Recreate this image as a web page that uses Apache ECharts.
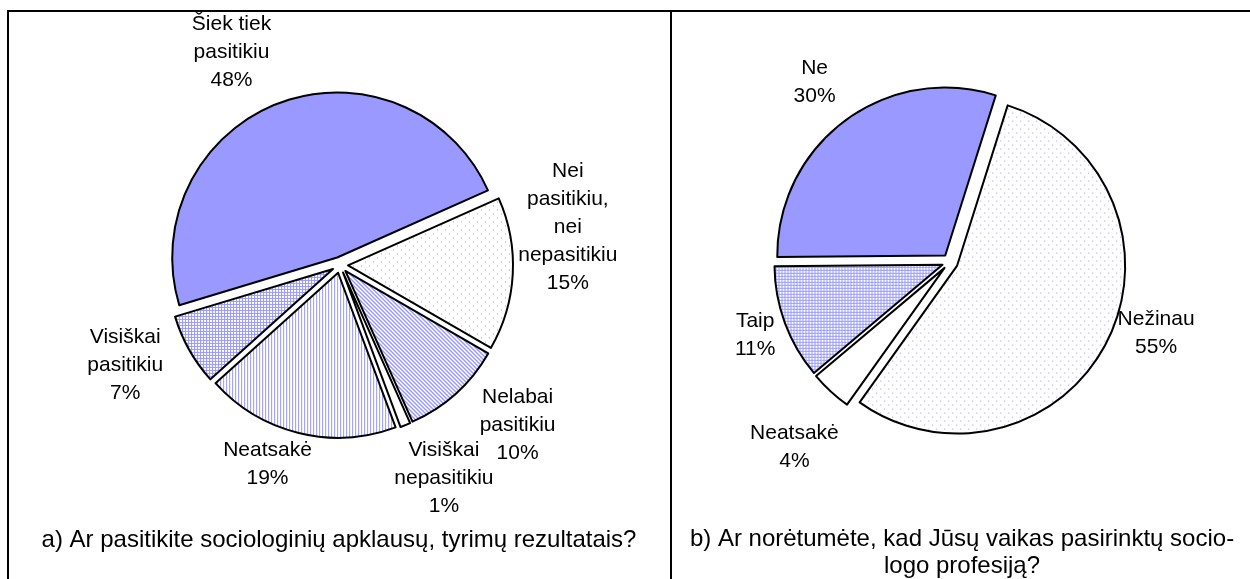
<!DOCTYPE html>
<html>
<head>
<meta charset="utf-8">
<script src="https://cdn.jsdelivr.net/npm/echarts@6/dist/echarts.min.js"></script>
<style>
html, body { margin: 0; padding: 0; background: #fff; }
#chart { width: 1250px; height: 579px; }
</style>
</head>
<body>
<div id="chart"></div>
<script>
// a) Ar pasitikite sociologinių apklausų ... (clockwise from the upper right)
const trustNames = ['Nei\npasitikiu,\nnei\nnepasitikiu', 'Nelabai\npasitikiu', 'Visiškai\nnepasitikiu', 'Neatsakė', 'Visiškai\npasitikiu', 'Šiek tiek\npasitikiu']
const trustValues = [15, 10, 1, 19, 7, 48]
const trustFills = ['dots', 'diag', 'white', 'vert', 'grid', 'solid']

// b) Ar norėtumėte, kad Jūsų vaikas ...
const childNames = ['Nežinau', 'Neatsakė', 'Taip', 'Ne']
const childValues = [55, 4, 11, 30]
const childFills = ['dots', 'white', 'grid', 'solid']

const captionA = 'a) Ar pasitikite sociologinių apklausų, tyrimų rezultatais?'
const captionB = 'b) Ar norėtumėte, kad Jūsų vaikas pasirinktų socio-\nlogo profesiją?'

// layout: where the labels sit around each pie, [angle deg, distance px]
const centers = [[340, 265], [950, 262]]
const labelPolar = [
  [[9.5, 231], [-42, 239], [-64, 237], [-110, 212], [-155, 237], [117, 239]],
  [[-19, 218], [-130, 242], [-159.5, 208], [127, 225]]
]

const BLUE = '#9999ff'
const FONT = '"Liberation Sans", Arial, sans-serif'

// little tiles like the old excel fill patterns
const makePattern = (kind) => {
  if (kind === 'solid') return BLUE
  if (kind === 'white') return '#ffffff'
  const c = document.createElement('canvas')
  const size = { dots: 8, diag: 4, vert: 3, grid: 3 }[kind]
  c.width = size
  c.height = size
  const ctx = c.getContext('2d')
  ctx.fillStyle = '#ffffff'
  ctx.fillRect(0, 0, size, size)
  ctx.fillStyle = BLUE
  if (kind === 'dots') {
    ctx.fillRect(1, 1, 1, 1)
    ctx.fillRect(5, 5, 1, 1)
  } else if (kind === 'diag') {
    for (let i = 0; i < 4; i++) {
      ctx.fillRect(i, i, 1, 1)
      ctx.fillRect((i + 1) % 4, i, 1, 1)
    }
  } else if (kind === 'vert') {
    ctx.fillRect(0, 0, 1, size)
  } else if (kind === 'grid') {
    ctx.fillRect(0, 0, 1, size)
    ctx.fillRect(0, 0, size, 1)
  }
  return { image: c, repeat: 'repeat' }
}

const buildData = (names, values, fills) => names.map((n, i) => ({
  name: n,
  value: values[i],
  selected: true,
  itemStyle: { color: makePattern(fills[i]) }
}))

const pieSeries = (idx, data, radius, startAngle) => ({
  type: 'pie',
  center: centers[idx],
  radius: [0, radius],
  startAngle: startAngle,
  clockwise: true,
  selectedMode: 'multiple',
  selectedOffset: 8,
  itemStyle: { borderColor: '#000', borderWidth: 2 },
  select: { itemStyle: { borderColor: '#000', borderWidth: 2 } },
  emphasis: { disabled: true },
  label: { show: false },
  labelLine: { show: false },
  data: data
})

// slice labels: name + percent, centred text blocks around the pie
const pieLabels = (idx, names, values) => names.map((n, i) => {
  const p = labelPolar[idx][i]
  const a = p[0] * Math.PI / 180
  return {
    type: 'text',
    x: centers[idx][0] + p[1] * Math.cos(a),
    y: centers[idx][1] - p[1] * Math.sin(a),
    style: {
      text: n + '\n' + values[i] + '%',
      font: '21px ' + FONT,
      lineHeight: 28,
      fill: '#000',
      align: 'center',
      verticalAlign: 'middle'
    }
  }
})

const chart = echarts.init(document.getElementById('chart'))
chart.setOption({
  animation: false,
  backgroundColor: '#fff',
  series: [
    pieSeries(0, buildData(trustNames, trustValues, trustFills), 165, 24),
    pieSeries(1, buildData(childNames, childValues, childFills), 168, 72.5)
  ],
  graphic: [
    {
      type: 'polyline',
      shape: { points: [[8, 579], [8, 11], [1250, 11]] },
      style: { stroke: '#000', lineWidth: 2, fill: null }
    },
    {
      type: 'line',
      shape: { x1: 671, y1: 11, x2: 671, y2: 579 },
      style: { stroke: '#000', lineWidth: 2 }
    },
    ...pieLabels(0, trustNames, trustValues),
    ...pieLabels(1, childNames, childValues),
    {
      type: 'text',
      x: 339,
      y: 540,
      style: { text: captionA, font: '24px ' + FONT, fill: '#000', align: 'center', verticalAlign: 'middle' }
    },
    {
      type: 'text',
      x: 962,
      y: 553,
      style: { text: captionB, font: '24px ' + FONT, lineHeight: 27, fill: '#000', align: 'center', verticalAlign: 'middle' }
    }
  ]
})
</script>
</body>
</html>
